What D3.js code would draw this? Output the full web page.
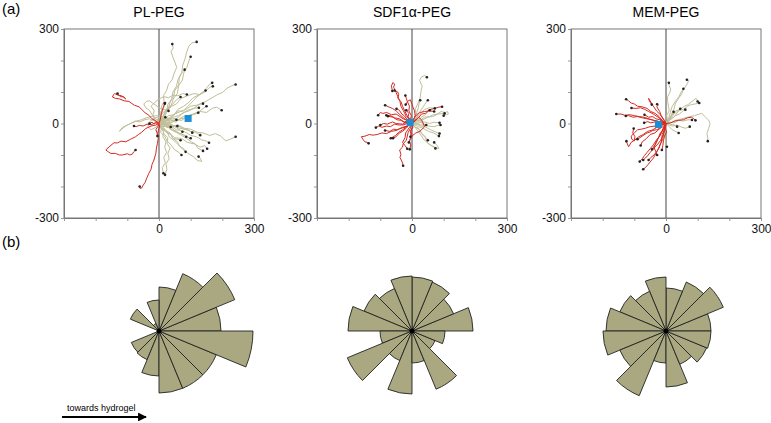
<!DOCTYPE html>
<html><head><meta charset="utf-8">
<script src="https://cdn.jsdelivr.net/npm/d3@7"></script>
<style>body{margin:0;background:#fff;font-family:"Liberation Sans",Arial,sans-serif}</style>
</head><body><svg id="c" width="771" height="423"></svg>
<script>
// ---------- DATA ----------
const panelTitles = ["PL-PEG", "SDF1\u03b1-PEG", "MEM-PEG"];
const axisTickValues = [-300, -200, -100, 0, 100, 200, 300];
const yTickLabels = [-300, 0, 300];
const xTickLabels = [0, 300];

// cell tracks (µm), each starting at the origin
const plOliveTracks = [
 [[0,0],[5,12],[2,25],[10,38],[8,55],[16,70],[14,88],[24,105],[30,125],[42,140],[48,160],[56,178],[50,195],[44,210],[38,228],[45,240],[42,252]],
 [[0,0],[12,18],[18,35],[30,48],[35,68],[46,85],[50,105],[62,122],[64,145],[72,162],[75,185],[82,205],[88,228],[94,245],[104,256],[119,259]],
 [[0,0],[14,20],[22,42],[38,55],[45,78],[58,96],[62,120],[74,138],[78,160],[88,178],[94,198],[100,212]],
 [[0,0],[10,22],[24,38],[28,60],[40,78],[44,100],[55,118],[60,140],[70,158],[81,171]],
 [[0,0],[18,15],[30,12],[48,28],[62,40],[75,38],[92,55],[108,72],[120,85],[138,98],[150,112],[160,125],[168,129]],
 [[0,0],[20,8],[38,18],[55,15],[72,30],[90,42],[110,48],[128,62],[148,70],[168,82],[185,92],[200,98],[215,112],[230,120],[242,124]],
 [[0,0],[15,12],[30,25],[48,28],[60,45],[78,55],[95,68],[108,82],[125,90],[138,100],[147,105]],
 [[0,0],[-5,15],[8,28],[18,40],[30,52],[42,60],[55,75],[68,84]],
 [[0,0],[18,5],[35,12],[55,8],[72,20],[92,25],[110,30],[130,38],[150,35],[168,48],[182,52],[198,42]],
 [[0,0],[15,10],[30,8],[45,20],[62,25],[78,35],[95,40],[110,48],[126,50]],
 [[0,0],[20,-2],[35,8],[52,5],[68,15],[85,18],[100,28],[115,30],[124,34]],
 [[0,0],[20,2],[40,-8],[60,-5],[80,-15],[100,-18],[122,-28],[140,-30],[160,-38],[178,-32],[195,-40],[210,-55],[225,-50],[242,-42]],
 [[0,0],[15,-10],[28,-8],[42,-22],[58,-30],[72,-38],[88,-48],[102,-58],[115,-65],[122,-78],[139,-87]],
 [[0,0],[18,-2],[32,-12],[50,-10],[68,-22],[85,-28],[100,-38],[118,-42],[135,-52],[148,-55],[158,-61]],
 [[0,0],[15,5],[30,-5],[48,-8],[65,-15],[82,-18],[100,-25],[115,-28],[130,-37]],
 [[0,0],[8,-12],[5,-28],[18,-40],[25,-55],[38,-68],[48,-82],[60,-90],[71,-100]],
 [[0,0],[12,-8],[20,-22],[35,-30],[42,-45],[58,-58],[65,-72],[78,-80],[84,-90]],
 [[0,0],[12,-2],[25,-12],[40,-15],[55,-28],[70,-32],[85,-42],[100,-47]],
 [[0,0],[10,-10],[25,-8],[38,-20],[52,-22],[65,-32],[78,-35],[86,-42]],
 [[0,0],[15,-5],[30,2],[45,-10],[62,-8],[78,-18],[92,-20],[105,-29]],
 [[0,0],[12,-2],[25,-12],[40,-10],[55,-20],[68,-22],[74,-26]],
 [[0,0],[10,4],[22,-3],[35,0],[48,-8],[58,-8]],
 [[0,0],[10,5],[18,-2],[28,-5],[37,-11]],
 [[0,0],[5,-12],[18,-18],[25,-30],[38,-35],[45,-48],[58,-50],[68,-53]],
 [[0,0],[5,-15],[15,-25],[12,-42],[22,-58],[18,-75],[24,-92],[15,-108],[20,-125],[10,-140],[14,-158]],
 [[0,0],[10,-15],[15,-32],[28,-45],[25,-62],[35,-78],[28,-95],[32,-112],[22,-128],[25,-145],[19,-163]],
 [[0,0],[-5,12],[8,22],[5,38],[15,50],[19,65]],
 [[0,0],[-15,8],[-30,15],[-45,12],[-60,5],[-75,8],[-90,0],[-105,-8],[-118,-18],[-125,-25],[-115,-12],[-100,-5],[-85,2],[-70,8],[-55,12],[-40,18],[-25,22],[-10,25],[5,22],[20,20]],
 [[0,0],[-10,15],[-22,28],[-30,42],[-42,50],[-48,62],[-40,70],[-30,72],[-20,65],[-10,58],[0,50],[12,45],[30,40]],
 [[0,0],[15,12],[32,18],[50,30],[68,38],[85,45],[100,55],[118,58],[139,63]],
 [[0,0],[20,5],[38,2],[55,12],[72,10],[88,22],[102,25],[118,35],[130,40],[142,50],[150,55]],
 [[0,0],[10,-15],[25,-25],[32,-42],[48,-55],[62,-68],[75,-82],[92,-95],[108,-105],[122,-118],[135,-120],[130,-110],[125,-105]],
 [[0,0],[-12,10],[-20,25],[-15,40],[-25,55],[-12,68],[0,78],[15,85],[30,82],[45,90],[60,88],[75,95],[88,92]],
 [[0,0],[-10,-12],[-25,-20],[-35,-10],[-30,5],[-18,15],[-5,20],[10,15],[25,18],[40,10],[55,12]],
 [[0,0],[18,20],[25,40],[40,55],[55,62],[70,80],[90,88],[110,95],[128,92],[145,100],[160,115],[170,118]],
 [[0,0],[12,-20],[30,-30],[50,-45],[72,-48],[90,-60],[112,-65],[130,-75],[145,-70],[152,-80]]
];
const plRedTracks = [
 [[0,0],[-10,8],[-22,15],[-32,26],[-45,35],[-55,45],[-63,53],[-78,58],[-95,70],[-110,72],[-125,78],[-138,80],[-147,84],[-143,92],[-140,95],[-130,90],[-118,88],[-110,82],[-105,78],[-112,85],[-122,85],[-128,92],[-131,95]],
 [[0,0],[-12,2],[-25,-4],[-38,-2],[-50,-8],[-62,-6],[-72,-10],[-79,-8]],
 [[0,0],[-11,-5],[-25,-8],[-42,-16],[-55,-28],[-65,-35],[-74,-42],[-90,-50],[-105,-58],[-120,-56],[-132,-62],[-142,-61],[-155,-72],[-168,-84],[-160,-90],[-152,-95],[-138,-95],[-125,-100],[-116,-100],[-100,-96],[-92,-100],[-84,-97],[-80,-90],[-74,-84]],
 [[0,0],[2,-8],[0,-16],[-4,-30],[-2,-45],[-5,-63],[-8,-78],[-10,-95],[-16,-116],[-22,-130],[-25,-145],[-32,-158],[-38,-172],[-44,-187],[-50,-196],[-55,-205],[-60,-206],[-61,-200]],
 [[0,0],[4,12],[6,25],[10,40],[14,52],[18,63]],
 [[0,0],[-4,-10],[-10,-20],[-6,-30],[-5,-40]],
 [[0,0],[-8,5],[-15,-2],[-22,4],[-30,0]]
];
const sdfRedTracks = [
 [[0,0],[-10,-5],[-22,-12],[-39,-16],[-50,-22],[-65,-25],[-81,-32],[-95,-30],[-110,-35],[-123,-37],[-135,-35],[-148,-40],[-160,-42],[-155,-50],[-149,-58],[-142,-60],[-137,-63]],
 [[0,0],[-8,12],[-18,22],[-28,42],[-35,55],[-38,70],[-44,84],[-50,98],[-58,115],[-55,125],[-60,130],[-65,120],[-62,103]],
 [[0,0],[-5,-15],[-12,-28],[-18,-53],[-28,-65],[-30,-75],[-39,-84],[-35,-98],[-38,-108],[-34,-116],[-30,-125],[-28,-134]],
 [[0,0],[-12,2],[-25,-4],[-40,-5],[-55,-2],[-68,-10],[-80,-8],[-95,-12],[-105,-8],[-114,-13]],
 [[0,0],[-12,8],[-25,5],[-40,15],[-55,18],[-68,25],[-81,26]],
 [[0,0],[-5,12],[-2,25],[-10,40],[-8,55],[-15,70],[-18,80],[-21,89]],
 [[0,0],[-10,-2],[-18,-12],[-30,-20],[-42,-28],[-52,-38],[-67,-47]],
 [[0,0],[3,-12],[-5,-25],[-2,-40],[-8,-55],[-4,-68],[-7,-82]],
 [[0,0],[8,10],[18,15],[30,30],[42,32],[52,42],[60,45],[72,48],[85,52],[95,53]],
 [[0,0],[-8,10],[-15,12],[-25,25],[-32,30],[-40,42],[-49,47]],
 [[0,0],[-15,5],[-30,-2],[-50,0],[-62,5],[-78,-2],[-90,0],[-100,-5]],
 [[0,0],[-8,-12],[-20,-30],[-22,-45],[-30,-60],[-22,-70],[-15,-80]],
 [[0,0],[-10,15],[-18,30],[-30,55],[-35,70],[-45,80],[-42,92],[-45,100],[-55,105]],
 [[0,0],[-12,5],[-22,2],[-35,10],[-48,12],[-60,20],[-76,23]],
 [[0,0],[-6,12],[-12,22],[-10,32],[-18,42]],
 [[0,0],[2,-12],[-4,-22],[-2,-32],[-5,-42]],
 [[0,0],[-10,-5],[-18,-15],[-30,-25],[-40,-30],[-50,-42],[-60,-47]],
 [[0,0],[-15,10],[-28,15],[-50,30],[-65,28],[-80,35],[-92,32],[-100,35],[-107,26]],
 [[0,0],[5,12],[10,25],[8,40],[2,55],[-5,75],[-12,72],[-20,60]],
 [[0,0],[10,8],[20,20],[30,12],[40,-10],[25,-25],[12,-30],[0,-40],[-5,-50],[-10,-60]],
 [[0,0],[-20,12],[-35,25],[-50,40],[-62,48],[-72,52],[-85,58]],
 [[0,0],[-15,-8],[-30,-12],[-45,-20],[-58,-18],[-70,-25],[-85,-22]],
 [[0,0],[5,15],[15,28],[25,35],[40,38],[55,40],[70,38]]
];
const sdfOliveTracks = [
 [[0,0],[8,15],[14,30],[10,45],[18,62],[25,78],[29,105],[32,118],[24,137],[30,148],[40,152],[47,147]],
 [[0,0],[12,8],[25,10],[40,20],[55,22],[68,28],[80,30],[92,38],[105,35],[112,38],[115,30],[108,28],[100,25]],
 [[0,0],[15,-2],[28,5],[40,5],[55,0],[70,4],[87,2]],
 [[0,0],[10,-12],[24,-18],[30,-32],[42,-45],[50,-63],[62,-70],[74,-79]],
 [[0,0],[8,-10],[20,-15],[25,-25],[38,-38],[45,-45],[50,-53]],
 [[0,0],[8,12],[10,25],[15,35],[20,50],[22,62],[26,74]],
 [[0,0],[12,10],[22,12],[30,20],[42,28],[56,42]],
 [[0,0],[15,8],[30,10],[50,20],[65,22],[82,30],[103,32]],
 [[0,0],[10,4],[25,5],[35,0],[45,-5]],
 [[0,0],[12,-15],[30,-40],[38,-52],[60,-70],[72,-75],[85,-80],[80,-70],[70,-60]],
 [[0,0],[10,12],[20,30],[28,42],[40,60],[45,68],[50,74]],
 [[0,0],[15,-2],[28,-8],[40,-10],[55,-18],[70,-25],[87,-32]],
 [[0,0],[12,2],[25,-4],[35,-5],[52,-8],[70,-10],[80,-6],[90,-5]],
 [[0,0],[15,20],[28,32],[40,45],[55,50],[72,48]],
 [[0,0],[20,-10],[35,-15],[52,-25],[68,-30],[85,-40]]
];
const memRedTracks = [
 [[0,0],[-12,10],[-22,22],[-34,32],[-48,38],[-60,48],[-76,53],[-90,55],[-100,62],[-110,65],[-118,72],[-126,77]],
 [[0,0],[-15,2],[-28,8],[-40,10],[-55,15],[-70,20],[-85,22],[-100,25],[-115,28],[-130,26],[-142,30],[-150,30],[-157,30]],
 [[0,0],[-15,5],[-30,8],[-45,12],[-60,15],[-75,18],[-90,22],[-105,20],[-118,25],[-127,24]],
 [[0,0],[-15,-5],[-28,-12],[-44,-21],[-58,-25],[-72,-35],[-86,-42],[-98,-52],[-110,-60],[-118,-74],[-122,-65],[-125,-56]],
 [[0,0],[-18,-2],[-32,-8],[-50,-10],[-65,-15],[-78,-18],[-90,-20],[-100,-30],[-110,-40],[-108,-50],[-100,-55],[-98,-42],[-105,-30],[-102,-16]],
 [[0,0],[-8,-15],[-15,-28],[-20,-40],[-32,-55],[-40,-68],[-50,-80],[-60,-92],[-68,-102],[-75,-112],[-83,-121]],
 [[0,0],[-5,-15],[-6,-28],[-10,-40],[-18,-55],[-28,-68],[-40,-80],[-50,-92],[-58,-102],[-65,-110],[-72,-116]],
 [[0,0],[-2,-15],[-8,-32],[-10,-50],[-18,-65],[-22,-78],[-30,-90],[-38,-100],[-48,-108],[-55,-116]],
 [[0,0],[-5,-18],[-12,-35],[-15,-60],[-22,-75],[-30,-92],[-40,-110],[-50,-122],[-58,-132],[-65,-140],[-72,-145]],
 [[0,0],[-12,2],[-22,-3],[-35,5],[-48,2],[-58,6],[-69,2]],
 [[0,0],[-5,10],[-15,25],[-20,38],[-29,53],[-25,58],[-28,61]],
 [[0,0],[-10,15],[-18,28],[-30,40],[-40,55],[-48,68],[-55,80],[-52,70],[-45,60]],
 [[0,0],[-15,10],[-25,20],[-40,30],[-55,38],[-68,45],[-80,50],[-95,48],[-109,49]],
 [[0,0],[-8,-12],[-12,-25],[-20,-40],[-28,-52],[-35,-68],[-44,-82]],
 [[0,0],[-3,-15],[2,-28],[-5,-40],[-8,-55],[-10,-70],[-13,-84]],
 [[0,0],[-12,-5],[-20,-15],[-30,-20],[-42,-22],[-52,-28],[-60,-30],[-75,-40],[-90,-50]],
 [[0,0],[15,2],[28,8],[40,10],[55,12],[68,18],[80,20],[88,15],[93,10]],
 [[0,0],[-10,-10],[-22,-18],[-35,-30],[-50,-35],[-62,-48],[-75,-58],[-80,-70]],
 [[0,0],[-8,-20],[-18,-30],[-25,-48],[-30,-60],[-38,-75],[-32,-90],[-28,-100]],
 [[0,0],[-10,5],[-20,12],[-32,15],[-42,22],[-55,20],[-68,28]]
];
const memOliveTracks = [
 [[0,0],[8,15],[12,30],[19,53],[28,68],[40,84],[48,100],[61,116],[68,128],[72,137],[66,139]],
 [[0,0],[5,12],[2,25],[10,40],[8,55],[5,70],[5,85],[12,98],[15,110],[10,120],[9,129]],
 [[0,0],[12,12],[25,20],[40,40],[55,45],[68,55],[80,60],[92,62],[105,65]],
 [[0,0],[15,2],[30,10],[50,15],[72,21],[90,25],[105,30],[113,32],[125,20],[135,10],[139,0],[135,-15],[129,-32],[132,-45],[132,-56]],
 [[0,0],[12,5],[25,2],[40,10],[55,8],[70,12],[82,11]],
 [[0,0],[10,10],[18,15],[30,25],[42,30],[52,38],[61,44]],
 [[0,0],[8,2],[15,-3],[25,-4],[35,-10]],
 [[0,0],[8,-8],[15,-15],[20,-20],[30,-25],[40,-30]],
 [[0,0],[2,-15],[-5,-28],[-5,-40],[0,-55],[-2,-65],[3,-74]],
 [[0,0],[10,15],[20,28],[30,40],[45,45],[58,55],[70,60],[82,70],[95,80],[98,75],[100,70]],
 [[0,0],[6,8],[12,15],[15,20],[20,30],[24,37]],
 [[0,0],[10,12],[18,20],[25,30],[35,38],[45,47]],
 [[0,0],[15,25],[25,45],[30,65],[40,80],[50,95],[55,110]],
 [[0,0],[20,-8],[35,-5],[50,-12],[62,-15],[75,-10]]
];
// centre of mass of the end points
const centroids = [[92,16],[-6,3],[-24,-3]];

// rose diagrams: 16 bins of 22.5°, counter-clockwise from "towards hydrogel" (east)
const plRose  = [62,82,62,44,31,8,31,0,0,30,31,45,62,62,62,94];
const sdfRose = [61,45,53,54,55,46,52,64,32,70,32,63,32,63,25,33];
const memRose = [45,62,53,43,54,43,50,60,63,50,70,32,56,36,44,45];

// ---------- DRAW ----------
const svg = d3.select("#c");
const FONT = '"Liberation Sans",Arial,sans-serif';
const panels = [
 {title: panelTitles[0], left: 64, red: plRedTracks, olive: plOliveTracks, c: centroids[0], rose: plRose},
 {title: panelTitles[1], left: 317, red: sdfRedTracks, olive: sdfOliveTracks, c: centroids[1], rose: sdfRose},
 {title: panelTitles[2], left: 571, red: memRedTracks, olive: memOliveTracks, c: centroids[2], rose: memRose}
];
const W = 190, TOP = 29, BOT = 218;
const RED = "#d42a22", OLIVE = "#bfbe98", ROSE_FILL = "#a9a881";

svg.append("text").attr("x", 2).attr("y", 14).attr("font-family", FONT).attr("font-size", 15).text("(a)");
svg.append("text").attr("x", 2).attr("y", 247).attr("font-family", FONT).attr("font-size", 15).text("(b)");

const rScale = d3.scaleLinear().domain([0, 100]).range([0, 100]);
const roseAngle = d3.scaleLinear().domain([0, 16]).range([Math.PI / 2, Math.PI / 2 - 2 * Math.PI]);

panels.forEach(p => {
  const x = d3.scaleLinear().domain([-300, 300]).range([p.left, p.left + W]);
  const y = d3.scaleLinear().domain([-300, 300]).range([BOT, TOP]);
  const g = svg.append("g");
  g.append("text").attr("x", x(0)).attr("y", 17).attr("text-anchor", "middle")
    .attr("font-family", FONT).attr("font-size", 14).text(p.title);

  const yAx = g.append("g").attr("transform", `translate(${p.left},0)`)
    .call(d3.axisLeft(y).tickValues(axisTickValues).tickSize(3).tickPadding(2)
      .tickFormat(v => yTickLabels.includes(v) ? String(v) : ""));
  const xAx = g.append("g").attr("transform", `translate(0,${BOT})`)
    .call(d3.axisBottom(x).tickValues(axisTickValues).tickSize(3).tickPadding(3)
      .tickFormat(v => xTickLabels.includes(v) ? String(v) : ""));
  [yAx, xAx].forEach(a => {
    a.selectAll("text").attr("font-family", FONT).attr("font-size", 12).attr("fill", "#111");
    a.selectAll("line").attr("stroke", "#999");
    a.select(".domain").attr("stroke", "#777");
  });
  g.append("rect").attr("x", p.left).attr("y", TOP).attr("width", W).attr("height", BOT - TOP)
    .attr("fill", "none").attr("stroke", "#777").attr("stroke-width", 1);
  g.append("line").attr("x1", x(0)).attr("x2", x(0)).attr("y1", TOP).attr("y2", BOT)
    .attr("stroke", "#444").attr("stroke-width", 1);

  const line = d3.line().x(d => x(d[0])).y(d => y(d[1]));
  g.selectAll(".o").data(p.olive).join("path").attr("d", line)
    .attr("fill", "none").attr("stroke", OLIVE).attr("stroke-width", 1);
  g.selectAll(".r").data(p.red).join("path").attr("d", line)
    .attr("fill", "none").attr("stroke", RED).attr("stroke-width", 1);
  g.selectAll(".e").data(p.olive.concat(p.red)).join("circle")
    .attr("cx", d => x(d[d.length - 1][0])).attr("cy", d => y(d[d.length - 1][1]))
    .attr("r", 1.3).attr("fill", "#222");
  g.append("rect").attr("x", x(p.c[0]) - 3.5).attr("y", y(p.c[1]) - 3.5).attr("width", 7).attr("height", 7)
    .attr("fill", "#1b8fd6");

  // rose
  const rg = svg.append("g").attr("transform", `translate(${x(0)},331)`);
  const arc = d3.arc().innerRadius(0);
  rg.selectAll("path").data(p.rose).join("path")
    .attr("d", (v, i) => arc({outerRadius: rScale(v), startAngle: roseAngle(i + 1), endAngle: roseAngle(i)}))
    .attr("fill", ROSE_FILL).attr("stroke", "#222").attr("stroke-width", 0.9);
  rg.append("circle").attr("r", 2.5).attr("fill", "#000");
});

// direction arrow
svg.append("defs").append("marker").attr("id", "ah").attr("viewBox", "0 0 10 10")
  .attr("refX", 9).attr("refY", 5).attr("markerWidth", 4).attr("markerHeight", 4).attr("orient", "auto")
  .append("path").attr("d", "M0,0L10,5L0,10Z").attr("fill", "#000");
svg.append("line").attr("x1", 62).attr("x2", 146).attr("y1", 417).attr("y2", 417)
  .attr("stroke", "#000").attr("stroke-width", 2.2).attr("marker-end", "url(#ah)");
svg.append("text").attr("x", 67).attr("y", 411).attr("font-family", FONT).attr("font-size", 9)
  .text("towards hydrogel");
</script></body></html>
